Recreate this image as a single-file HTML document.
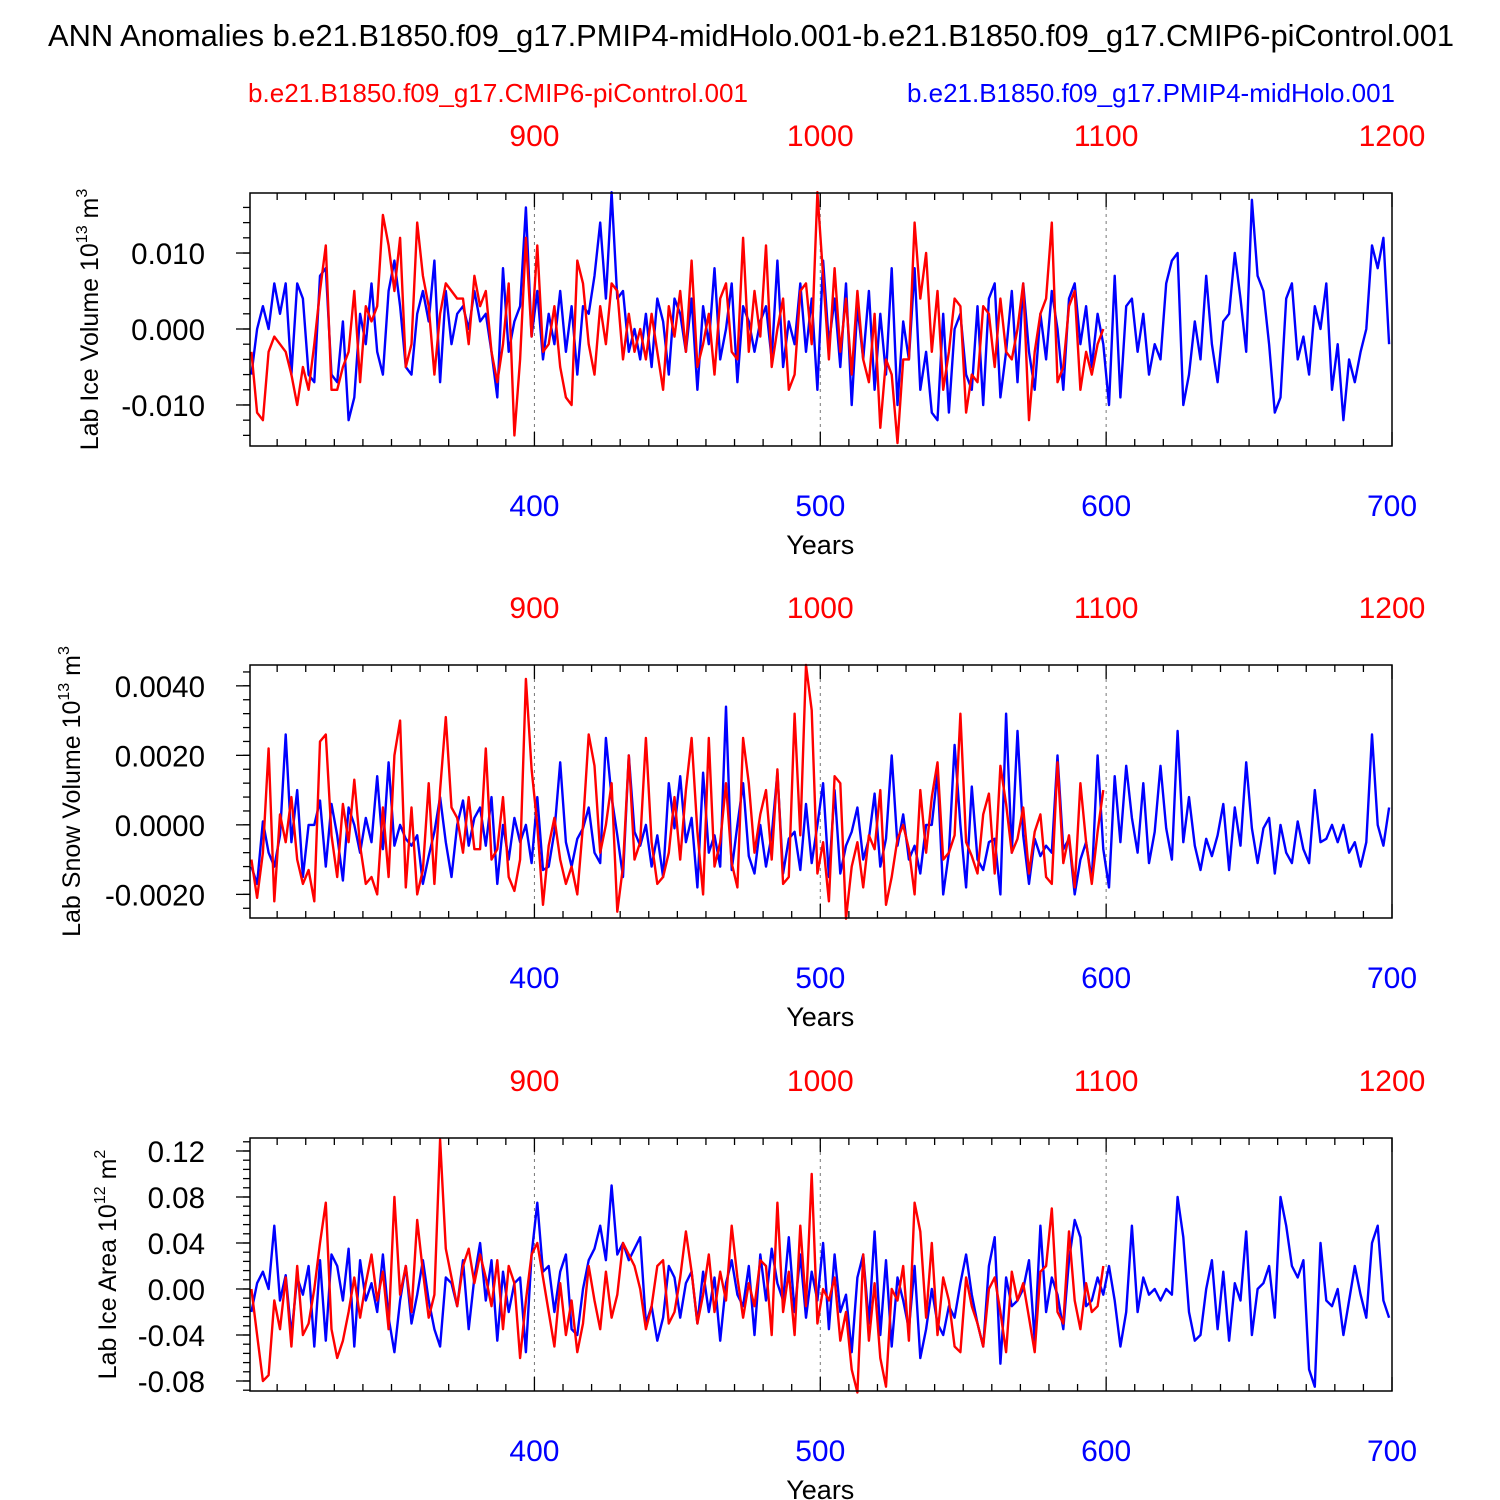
<!DOCTYPE html>
<html><head><meta charset="utf-8">
<style>
html,body{margin:0;padding:0;background:#fff;}
svg{display:block;font-family:"Liberation Sans",Arial,sans-serif;}
</style></head>
<body>
<svg id="chart" width="1500" height="1500" viewBox="0 0 1500 1500">
<text x="751" y="46" text-anchor="middle" font-size="30.5" textLength="1406" lengthAdjust="spacingAndGlyphs">ANN Anomalies b.e21.B1850.f09_g17.PMIP4-midHolo.001-b.e21.B1850.f09_g17.CMIP6-piControl.001</text>
<text x="248" y="102" font-size="26" fill="#ff0000" textLength="500" lengthAdjust="spacingAndGlyphs">b.e21.B1850.f09_g17.CMIP6-piControl.001</text>
<text x="1395" y="102" text-anchor="end" font-size="26" fill="#0000ff" textLength="488" lengthAdjust="spacingAndGlyphs">b.e21.B1850.f09_g17.PMIP4-midHolo.001</text>
</svg>
<script>
// ---- data (blue = midHolo, years 301..699 step 2; red = piControl, years 301..599 step 2) ----
const blueStartYear = 301;
const redStartYear = 301;
const yearStep = 2;
const xTicksBottom = [400, 500, 600, 700];
const xTicksTop = [900, 1000, 1100, 1200];

const iceVolTicks = [0.010, 0.000, -0.010];
const iceVolTickLabels = ["0.010", "0.000", "-0.010"];
const iceVolBlue = [-6,0,3,0,6,2,6,-6,6,4,-6,-7,7,8,-6,-7,1,-12,-9,2,-2,6,-3,-6,5,9,3,-5,-6,2,5,1,9,-7,5,-2,2,3,0,5,1,2,-3,-9,8,-3,1,3,16,-1,
5,-4,2,-2,5,-3,3,-6,3,2,7,14,4,18,4,5,-3,0,-4,2,-5,4,1,-6,4,2,-3,4,-8,3,-2,8,-4,0,6,-7,3,1,-3,1,3,-4,9,-5,1,-2,6,-3,4,-8,
9,-2,4,-5,6,-10,3,-4,5,-8,2,-6,8,-10,1,-4,8,-8,-3,-11,-12,2,-11,0,2,-6,-8,3,-10,4,6,-9,-3,5,-7,6,-3,-8,2,-4,5,0,-8,4,6,-2,3,-5,2,-2,
-10,7,-9,3,4,-3,2,-6,-2,-4,6,9,10,-10,-6,1,-4,7,-2,-7,1,2,10,4,-3,17,7,5,-2,-11,-9,4,6,-4,-1,-6,3,0,6,-8,-2,-12,-4,-7,-3,0,11,8,12,-2,4,-5];
const iceVolRed = [-3,-11,-12,-3,-1,-2,-3,-6,-10,-5,-8,-2,5,11,-8,-8,-5,-3,5,-7,3,1,3,15,11,5,12,-5,-2,14,7,3,-6,2,6,5,4,4,-2,7,3,5,-3,-7,-2,6,-14,-4,12,-1,
11,-3,-2,3,-5,-9,-10,9,6,-2,-6,3,-2,6,5,-4,2,-3,0,-4,2,-3,-8,3,-1,5,-3,9,-5,-2,2,-6,4,6,-3,-4,12,-3,5,-1,11,-5,0,4,-8,-6,5,6,-2,18,
7,-4,8,-3,4,-6,5,-4,-7,2,-13,-4,-6,-15,-4,-4,14,4,10,-3,5,-8,-3,4,3,-11,-6,-7,3,2,-5,4,-3,-4,0,6,-12,-3,2,4,14,-7,-5,3,5,-8,-3,-6,-2,0];

const snowTicks = [0.0040, 0.0020, 0.0000, -0.0020];
const snowTickLabels = ["0.0040", "0.0020", "0.0000", "-0.0020"];
const snowBlue = [-12,-17,1,-8,-12,-3,26,-5,10,-15,0,0,7,-12,6,-3,-16,5,0,-8,2,-5,14,-7,18,-6,0,-4,-6,-3,-17,-9,-2,8,-5,-15,0,7,-6,2,5,-6,8,-17,0,-10,2,-5,0,-11,
8,-13,-12,-2,18,-5,-12,-4,-1,5,-8,-11,25,8,-3,-15,20,-2,-6,0,-12,-3,-15,12,-1,14,-5,2,-18,15,-8,-3,-12,34,-13,0,12,-9,-14,0,-12,-3,15,-14,-4,-2,-13,6,-11,0,
12,-15,10,-14,-6,-2,5,-10,-4,9,-12,-4,20,-6,3,-10,-6,-14,0,0,15,-20,-8,23,0,-18,11,-10,-13,-5,-4,-20,32,-8,27,-3,-17,-4,-9,-6,-8,20,-7,-4,-20,-10,-5,-16,20,-7,
-18,14,-5,17,2,-8,12,-11,-2,17,-1,-10,27,-5,8,-6,-13,-4,-9,-3,6,-13,5,-6,18,-1,-11,-1,2,-14,0,-8,-11,1,-7,-11,10,-5,-4,0,-5,0,-8,-5,-12,-5,26,0,-6,5,-2];
const snowRed = [-10,-21,-8,22,-22,3,-5,8,-10,-17,-13,-22,24,26,-3,-15,6,-5,13,-6,-17,-15,-20,5,-15,20,30,-18,5,-20,-13,12,-17,10,31,5,2,-8,8,-7,-7,22,-10,-7,8,-15,-19,-10,42,16,
0,-23,-6,2,-10,-17,-12,-20,0,26,17,-8,0,12,-25,-12,20,-10,-5,25,-5,-17,-15,-8,8,-10,10,25,-2,-20,25,-12,-5,12,-11,-18,25,12,-8,3,10,-10,16,-17,-15,32,-3,46,33,-14,
-5,-22,14,12,-27,-12,-5,-18,-3,-7,10,-23,-15,-4,0,-7,-20,10,-8,8,18,-10,-8,-3,32,-5,-9,-14,3,9,-14,17,6,-8,-4,5,-14,-2,3,-15,-17,18,-11,-3,-18,12,-5,-17,-2,10];

const areaTicks = [0.12, 0.08, 0.04, 0.00, -0.04, -0.08];
const areaTickLabels = ["0.12", "0.08", "0.04", "0.00", "-0.04", "-0.08"];
const areaBlue = [-20,5,15,0,55,-10,12,-40,10,-5,20,-50,25,-45,30,20,-10,35,-50,25,-10,5,-20,30,-25,-55,-10,20,-30,-5,25,-10,-35,-50,10,5,-15,25,-35,10,40,-10,25,-45,15,-20,5,10,-55,30,
75,15,20,-20,15,30,-35,-40,0,25,35,55,25,90,30,40,25,35,45,-30,-15,-45,-25,20,10,-25,5,15,-30,15,-20,10,-45,5,25,-5,-15,20,-40,30,-10,35,5,-10,45,-20,30,-25,15,-10,
40,-35,30,-20,-5,-55,10,30,-30,50,-40,25,-50,10,-10,-35,20,-60,-35,0,-30,-40,-15,-25,5,30,-5,-30,-50,20,45,-65,10,-15,-10,0,25,-45,55,-20,10,-5,-35,25,60,45,-15,-10,10,-5,
20,-10,-50,-20,55,-20,10,-5,0,-10,0,-5,80,45,-20,-45,-40,0,25,-35,15,-45,5,-10,50,-40,0,5,20,-25,80,55,20,10,25,-70,-85,40,-10,-15,0,-40,-10,20,-5,-25,40,55,-10,-25];
const areaRed = [0,-40,-80,-75,-10,-35,10,-50,20,-40,-30,0,40,75,-35,-60,-45,-20,10,-25,5,30,-10,15,-35,80,-5,20,-20,60,15,-25,-5,130,35,10,-15,20,35,5,30,10,-15,25,-35,20,5,-60,-10,30,
40,10,-20,-50,5,-40,-10,-55,-30,20,-10,-35,15,-25,-5,40,30,20,0,-35,-15,20,25,-30,-20,10,50,15,-30,-5,30,-20,15,-10,55,10,-25,5,-15,25,20,-40,75,-20,15,-40,55,-15,100,-30,
0,-10,10,-45,-20,-70,-90,30,-45,5,-60,-85,0,-10,20,-45,75,50,-25,40,-40,10,-10,-50,-55,10,-15,-30,-50,0,10,-20,-55,15,-10,5,-25,-55,15,20,70,-20,-30,50,-10,-35,5,-20,-15,20];

const NS = "http://www.w3.org/2000/svg";
const svg = document.getElementById("chart");
function mk(tag, attrs, parent) {
  const e = document.createElementNS(NS, tag);
  for (const k in attrs) e.setAttribute(k, attrs[k]);
  (parent || svg).appendChild(e);
  return e;
}
const X0 = 250, X1 = 1392, YEAR0 = 300.5, YEAR1 = 700;
function xScale(yr) { return X0 + (yr - YEAR0) * (X1 - X0) / (YEAR1 - YEAR0); }

const panels = [
  {name:"ice-volume", top:193, bottom:446, vmax:0.0179, vmin:-0.0154, unit:0.001, ticks:iceVolTicks, labels:iceVolTickLabels, minor:0.002,
   blue:iceVolBlue, red:iceVolRed, title:["Lab Ice Volume 10","13"," m","3"], tx:98},
  {name:"snow-volume", top:665, bottom:918, vmax:0.0046, vmin:-0.00268, unit:0.0001, ticks:snowTicks, labels:snowTickLabels, minor:0.0004,
   blue:snowBlue, red:snowRed, title:["Lab Snow Volume 10","13"," m","3"], tx:80},
  {name:"ice-area", top:1138, bottom:1391, vmax:0.1313, vmin:-0.0887, unit:0.001, ticks:areaTicks, labels:areaTickLabels, minor:0.008,
   blue:areaBlue, red:areaRed, title:["Lab Ice Area 10","12"," m","2"], tx:116}
];

panels.forEach((p) => {
  const g = mk("g", {});
  
  
  const yScale = v => p.top + (p.vmax - v) * (p.bottom - p.top) / (p.vmax - p.vmin);

  [400, 500, 600].forEach(yr => {
    const l = mk("line", {x1:xScale(yr), x2:xScale(yr), y1:p.top, y2:p.bottom, stroke:"#777", "stroke-width":1, "stroke-dasharray":"3,4"}, g);
    
    
  });

  function series(vals, start, color, nm) {
    const pts = [];
    vals.forEach((v, i) => {
      const yr = start + i * yearStep;
      if (yr <= YEAR1) pts.push(xScale(yr).toFixed(1) + "," + yScale(v * p.unit).toFixed(1));
    });
    const pl = mk("polyline", {points:pts.join(" "), fill:"none", stroke:color, "stroke-width":2.4, "stroke-linejoin":"round"}, g);
    
    
  }
  series(p.blue, blueStartYear, "#0000ff", p.name + "-midholo-line");
  series(p.red, redStartYear, "#ff0000", p.name + "-picontrol-line");

  const r = mk("rect", {x:X0, y:p.top, width:X1 - X0, height:p.bottom - p.top, fill:"none", stroke:"#000", "stroke-width":1.5}, g);
  
  

  for (let yr = 310; yr <= 700; yr += 10) {
    const major = yr % 100 === 0;
    const len = major ? 14 : 7;
    const x = xScale(yr);
    mk("line", {x1:x, x2:x, y1:p.bottom, y2:p.bottom - len, stroke:"#000", "stroke-width":1.3}, g);
    mk("line", {x1:x, x2:x, y1:p.top, y2:p.top + len, stroke:"#000", "stroke-width":1.3}, g);
  }
  xTicksBottom.forEach(yr => {
    const t = mk("text", {x:xScale(yr), y:p.bottom + 70, "text-anchor":"middle", "font-size":30, fill:"#0000ff"}, g);
    t.textContent = yr;
    
    
  });
  xTicksTop.forEach((yr, i) => {
    const t = mk("text", {x:xScale(xTicksBottom[i]), y:p.top - 47, "text-anchor":"middle", "font-size":30, fill:"#ff0000"}, g);
    t.textContent = yr;
    
    
  });
  const xt = mk("text", {x:xScale(500), y:p.bottom + 108, "text-anchor":"middle", "font-size":27}, g);
  xt.textContent = "Years";
  
  

  const step = p.minor;
  for (let k = Math.ceil(p.vmin / step); k * step <= p.vmax + 1e-12; k++) {
    const y = yScale(k * step);
    mk("line", {x1:X0, x2:X0 - 7, y1:y, y2:y, stroke:"#000", "stroke-width":1.3}, g);
  }
  p.ticks.forEach((v, i) => {
    const y = yScale(v);
    mk("line", {x1:X0, x2:X0 - 14, y1:y, y2:y, stroke:"#000", "stroke-width":1.3}, g);
    const t = mk("text", {x:205, y:y + 11, "text-anchor":"end", "font-size":29.5}, g);
    t.textContent = p.labels[i];
    
    
  });

  const cy = (p.top + p.bottom) / 2;
  const yt = mk("text", {x:0, y:0, "text-anchor":"middle", "font-size":25, transform:`translate(${p.tx},${cy}) rotate(-90)`}, g);
  
  
  const a = mk("tspan", {}, yt); a.textContent = p.title[0];
  const b = mk("tspan", {dy:-11, "font-size":16}, yt); b.textContent = p.title[1];
  const c = mk("tspan", {dy:11}, yt); c.textContent = p.title[2];
  const d = mk("tspan", {dy:-11, "font-size":16}, yt); d.textContent = p.title[3];
});
</script>
</body></html>
